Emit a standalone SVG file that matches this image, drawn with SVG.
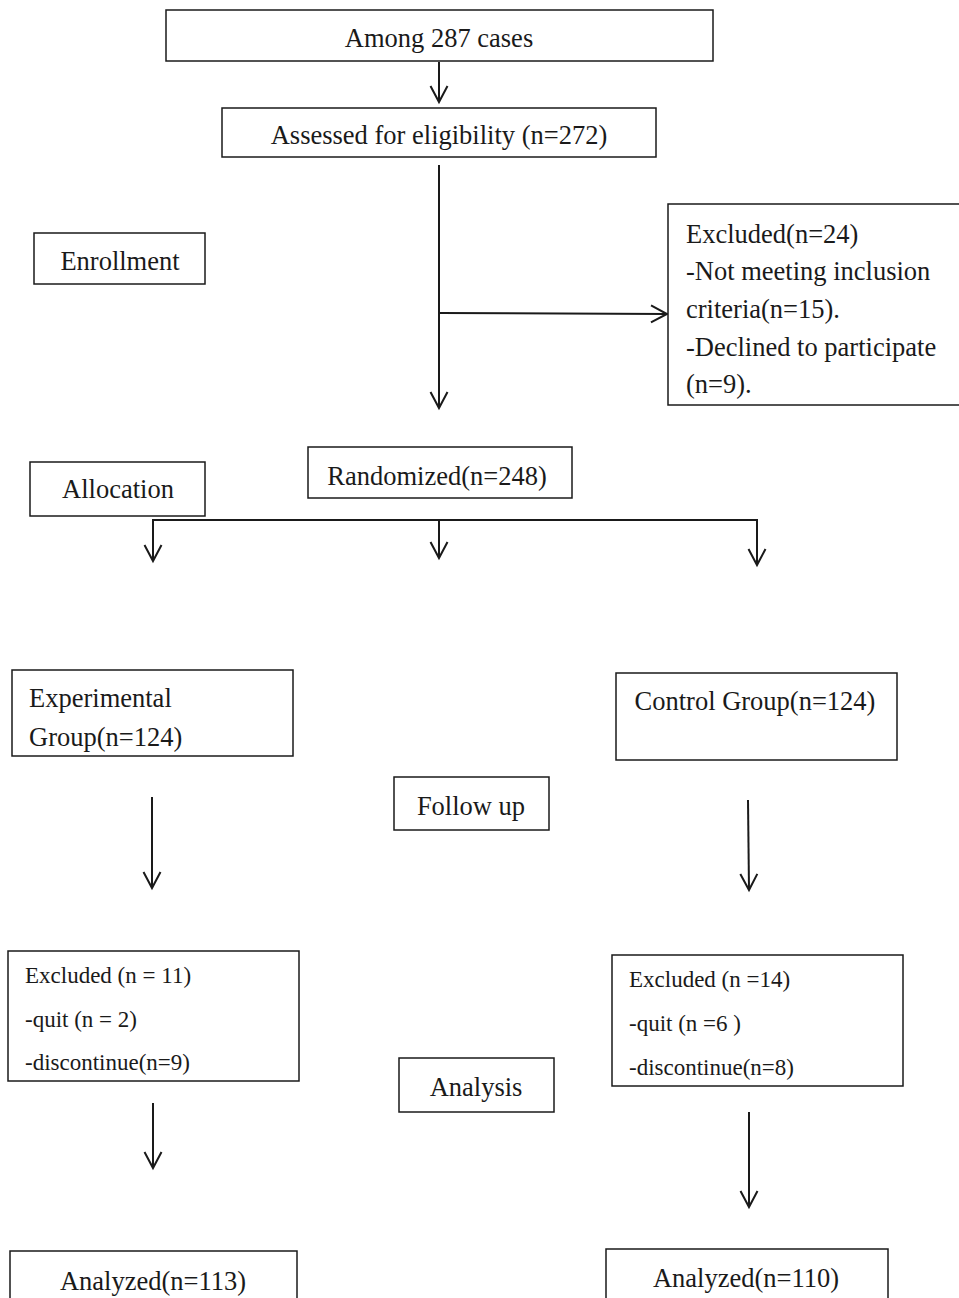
<svg xmlns="http://www.w3.org/2000/svg" width="959" height="1298" viewBox="0 0 959 1298">
<defs>
<marker id="arr" markerUnits="userSpaceOnUse" markerWidth="20" markerHeight="24" viewBox="-18 -11 20 22" refX="0" refY="0" orient="auto" overflow="visible">
<path d="M-16,-8.5 L0,0 L-16,8.5" fill="none" stroke="#1a1a1a" stroke-width="2"/>
</marker>
<style>
.b{fill:#fff;stroke:#1a1a1a;stroke-width:1.5}
text{font-family:"Liberation Serif","Times New Roman",serif;fill:#1a1a1a;font-size:26.5px}
.c{text-anchor:middle}
.s{font-size:23px}
.ln{fill:none;stroke:#1a1a1a;stroke-width:2}
.ar{fill:none;stroke:#1a1a1a;stroke-width:2;marker-end:url(#arr)}
</style>
</defs>
<rect x="0" y="0" width="959" height="1298" fill="#ffffff"/>
<g id="connectors">
<line class="ar" x1="439" y1="62" x2="439" y2="102"/>
<line class="ar" x1="439" y1="165" x2="439" y2="408"/>
<line class="ar" x1="440" y1="313" x2="667" y2="314"/>
<polyline class="ln" points="153,560 153,520 757,520 757,564"/>
<line class="ar" x1="153" y1="520" x2="153" y2="561"/>
<line class="ar" x1="439" y1="520" x2="439" y2="558"/>
<line class="ar" x1="757" y1="520" x2="757" y2="565"/>
<line class="ar" x1="152" y1="797" x2="152" y2="888"/>
<line class="ar" x1="748" y1="800" x2="749" y2="890"/>
<line class="ar" x1="153" y1="1103" x2="153" y2="1168"/>
<line class="ar" x1="749" y1="1112" x2="749" y2="1207"/>
</g>
<g id="n-among">
<rect class="b" x="166" y="10" width="547" height="51"/>
<text class="c" x="439" y="47">Among 287 cases</text>
</g>
<g id="n-assessed">
<rect class="b" x="222" y="108" width="434" height="49"/>
<text class="c" x="439" y="144">Assessed for eligibility (n=272)</text>
</g>
<g id="n-enrollment">
<rect class="b" x="34" y="233" width="171" height="51"/>
<text class="c" x="120" y="270">Enrollment</text>
</g>
<g id="n-excluded1">
<rect class="b" x="668" y="204" width="300" height="201"/>
<text x="686" y="243">Excluded(n=24)</text>
<text x="686" y="280">-Not meeting inclusion</text>
<text x="686" y="318">criteria(n=15).</text>
<text x="686" y="356">-Declined to participate</text>
<text x="686" y="393">(n=9).</text>
</g>
<g id="n-randomized">
<rect class="b" x="308" y="447" width="264" height="51"/>
<text class="c" x="437" y="485">Randomized(n=248)</text>
</g>
<g id="n-allocation">
<rect class="b" x="30" y="462" width="175" height="54"/>
<text class="c" x="118" y="498">Allocation</text>
</g>
<g id="n-experimental">
<rect class="b" x="12" y="670" width="281" height="86"/>
<text x="29" y="707">Experimental</text>
<text x="29" y="746">Group(n=124)</text>
</g>
<g id="n-control">
<rect class="b" x="616" y="673" width="281" height="87"/>
<text class="c" x="755" y="710">Control Group(n=124)</text>
</g>
<g id="n-followup">
<rect class="b" x="394" y="777" width="155" height="53"/>
<text class="c" x="471" y="815">Follow up</text>
</g>
<g id="n-excluded-exp">
<rect class="b" x="8" y="951" width="291" height="130"/>
<text class="s" x="25" y="983">Excluded (n = 11)</text>
<text class="s" x="25" y="1027">-quit (n = 2)</text>
<text class="s" x="25" y="1070">-discontinue(n=9)</text>
</g>
<g id="n-excluded-ctl">
<rect class="b" x="612" y="955" width="291" height="131"/>
<text class="s" x="629" y="987">Excluded (n =14)</text>
<text class="s" x="629" y="1031">-quit (n =6 )</text>
<text class="s" x="629" y="1075">-discontinue(n=8)</text>
</g>
<g id="n-analysis">
<rect class="b" x="399" y="1058" width="155" height="54"/>
<text class="c" x="476" y="1096">Analysis</text>
</g>
<g id="n-analyzed-exp">
<rect class="b" x="10" y="1251" width="287" height="60"/>
<text class="c" x="153" y="1290">Analyzed(n=113)</text>
</g>
<g id="n-analyzed-ctl">
<rect class="b" x="606" y="1249" width="282" height="60"/>
<text class="c" x="746" y="1287">Analyzed(n=110)</text>
</g>
</svg>
